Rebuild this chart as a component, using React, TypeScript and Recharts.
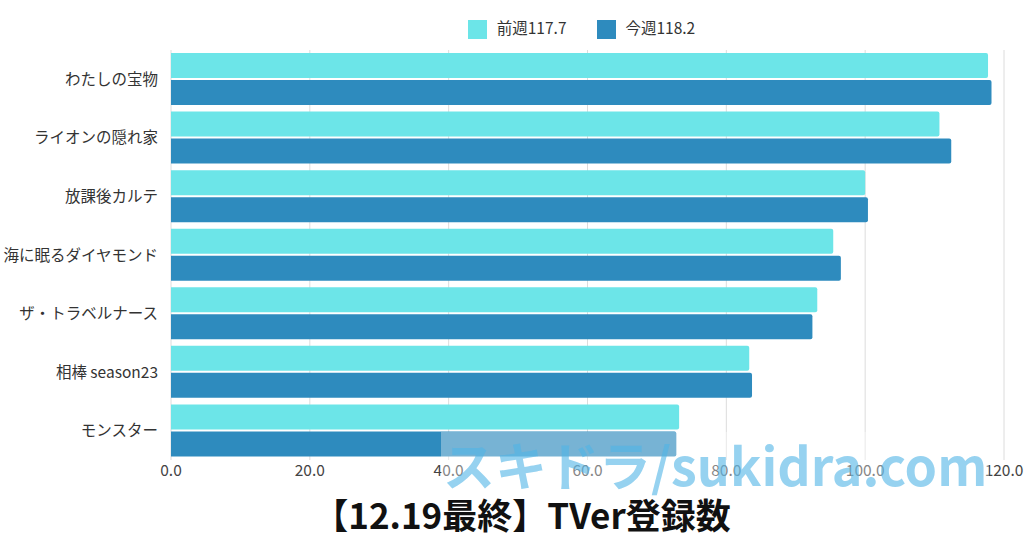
import { Bar, BarChart, CartesianGrid, Legend, XAxis, YAxis } from "recharts";

const titles = [
  "わたしの宝物",
  "ライオンの隠れ家",
  "放課後カルテ",
  "海に眠るダイヤモンド",
  "ザ・トラベルナース",
  "相棒 season23",
  "モンスター",
];
const lastWeek = [117.7, 110.7, 100.0, 95.4, 93.1, 83.3, 73.2];
const thisWeek = [118.2, 112.4, 100.4, 96.5, 92.4, 83.7, 72.8];
const xTicks = [0, 20, 40, 60, 80, 100, 120];

const data = titles.map((name, i) => ({ name, prev: lastWeek[i], curr: thisWeek[i] }));

const FONT = '"Noto Sans CJK JP", "Noto Sans", sans-serif';

export default function App() {
  return (
    <div style={{ position: "absolute", left: 0, top: 0, width: 1024, height: 538, background: "#fff", fontFamily: FONT }}>
      <BarChart
        width={1024}
        height={538}
        data={data}
        layout="vertical"
        margin={{ top: 50, right: 20, bottom: 48, left: 0 }}
        barCategoryGap={3}
        barGap={2}
      >
        <CartesianGrid horizontal={false} stroke="#dcdcdc" />
        <XAxis
          type="number"
          domain={[0, 120]}
          ticks={xTicks}
          tickFormatter={(v: number) => v.toFixed(1)}
          axisLine={false}
          tickLine={false}
          tickSize={0}
          tickMargin={5}
          height={30}
          tick={{ fill: "#444", fontSize: 15.5, fontFamily: FONT }}
        />
        <YAxis
          type="category"
          dataKey="name"
          width={171}
          axisLine={false}
          tickLine={false}
          tickSize={0}
          tickMargin={13}
          tick={{ fill: "#333", fontSize: 15.5, fontFamily: FONT }}
        />
        <Legend
          verticalAlign="middle"
          align="center"
          iconType="square"
          iconSize={19}
          itemSorter={(item: any) => (item.dataKey === "prev" ? 0 : 1)}
          wrapperStyle={{ top: 16, left: 180, width: 833, fontFamily: FONT, fontSize: 15.5 }}
          formatter={(value: string) => <span style={{ color: "#333", marginLeft: 6, marginRight: 20 }}>{value}</span>}
        />
        <Bar dataKey="prev" name="前週117.7" fill="#6ce5e8" radius={[0, 2, 2, 0]} isAnimationActive={false} />
        <Bar dataKey="curr" name="今週118.2" fill="#2e8bbe" radius={[0, 2, 2, 0]} isAnimationActive={false} />
      </BarChart>
      <div
        style={{
          position: "absolute",
          left: 441,
          top: 432,
          width: 548,
          height: 62,
          background: "rgba(255,255,255,0.35)",
          color: "rgba(80,180,230,0.6)",
          fontSize: 52,
          lineHeight: "64px",
          fontWeight: 700,
          whiteSpace: "nowrap",
          paddingLeft: 2,
          boxSizing: "border-box",
        }}
      >
        スキドラ/sukidra.com
      </div>
      <div
        style={{
          position: "absolute",
          left: 252,
          width: 540,
          top: 494,
          height: 40,
          textAlign: "center",
          fontSize: 35,
          fontWeight: 700,
          lineHeight: "40px",
          color: "#111",
          whiteSpace: "nowrap",
        }}
      >
        【12.19最終】TVer登録数
      </div>
    </div>
  );
}
